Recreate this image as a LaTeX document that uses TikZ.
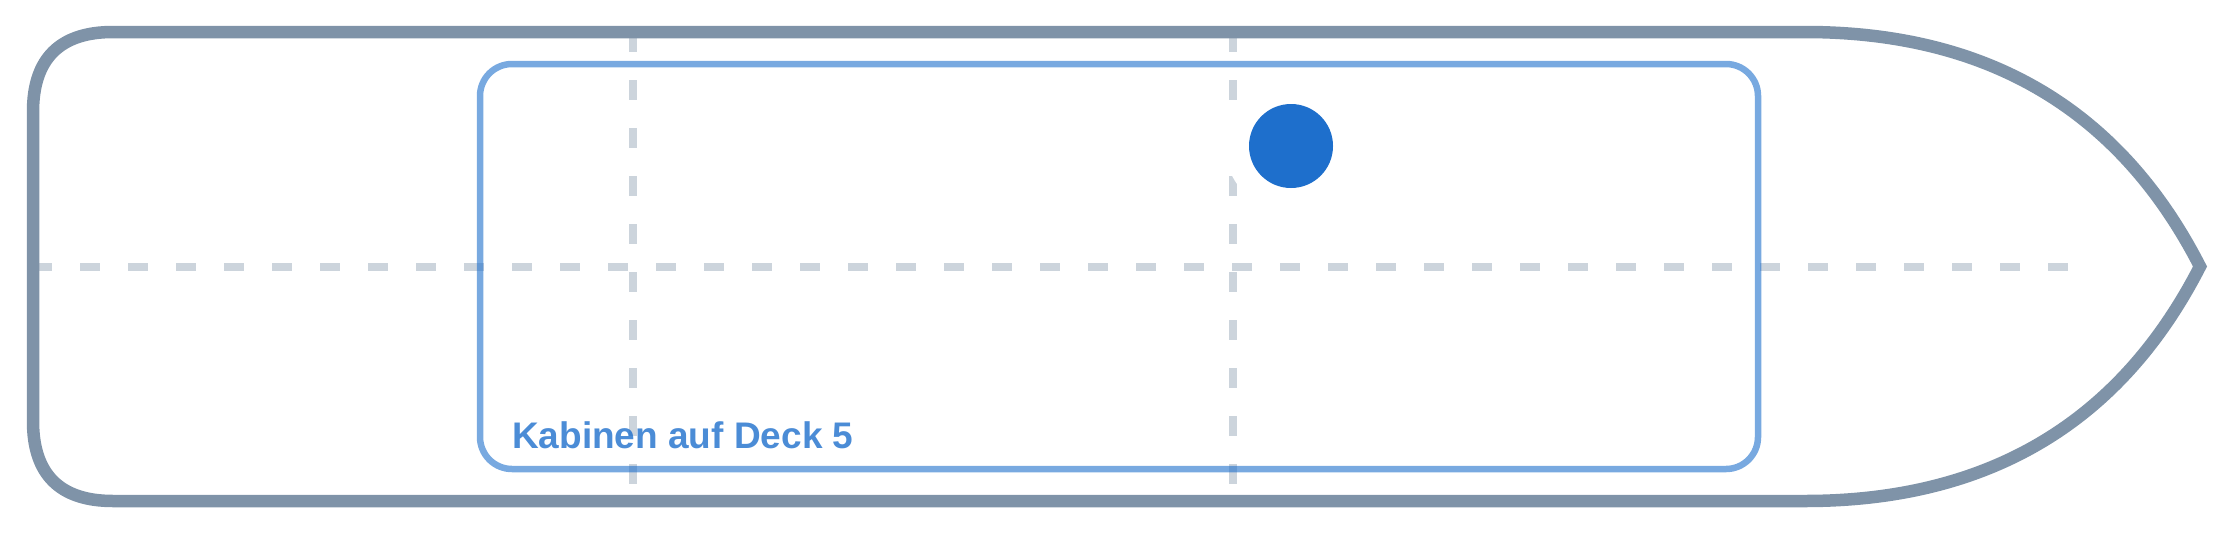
\documentclass[tikz,border=0pt]{standalone}
\usepackage{fontspec}
\setmainfont{Liberation Sans}
\definecolor{hullgray}{HTML}{7F93A8}
\definecolor{cabinblue}{HTML}{1E6FCC}
\tikzset{
  hull/.style={draw=hullgray, line width=12.5pt, line join=miter},
  guide/.style={draw=hullgray, draw opacity=0.4, line width=8pt, dash pattern=on 20pt off 28pt},
  cabin/.style={draw=cabinblue, draw opacity=0.6, line width=6.5pt, rounded corners=32pt},
  marker/.style={circle, fill=cabinblue, minimum size=84pt, inner sep=0pt},
  halo/.style={circle, fill=white, minimum size=132pt, inner sep=0pt},
  cabinlabel/.style={text=cabinblue, text opacity=0.8, font=\fontsize{37}{42}\selectfont\bfseries, inner sep=0pt, anchor=base west}
}
\begin{document}
\begin{tikzpicture}[x=1pt, y=-1pt]
\useasboundingbox (0,0) rectangle (2240,533);
% guide lines
\draw[guide] (32,266.5) -- (2070,266.5);
\draw[guide] (633,32) -- (633,501);
\draw[guide] (1233,32) -- (1233,501);
% hull
\draw[hull] (113,32) -- (1805,32)
  .. controls (1988.3,32) and (2120,110.2) .. (2200,266.5)
  .. controls (2120,422.8) and (1988.3,501) .. (1805,501)
  -- (113,501)
  .. controls (59.7,501) and (33,474.3) .. (33,421)
  -- (33,112)
  .. controls (33,58.7) and (59.7,32) .. (113,32) -- cycle;
% cabin area
\draw[cabin] (480,64) rectangle (1758,469);
\node[cabinlabel] (label) at (512,448) {Kabinen auf Deck 5};
% marker
\node[halo] (halo) at (1291,146) {};
\node[marker] (dot) at (1291,146) {};
\end{tikzpicture}
\end{document}
